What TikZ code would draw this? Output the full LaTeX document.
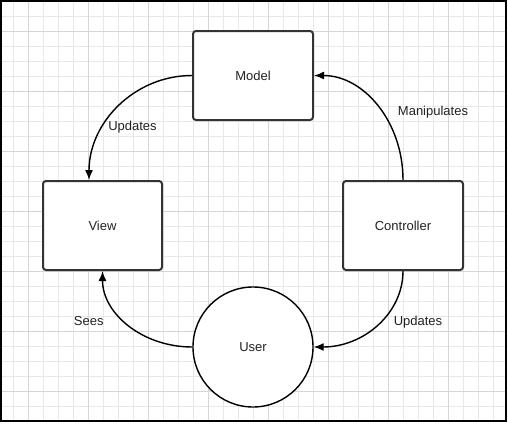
\documentclass[tikz,border=0pt]{standalone}
\usepackage{fontspec}
\setmainfont{Liberation Sans}
\usetikzlibrary{arrows.meta}
\definecolor{minorgrid}{HTML}{E8E8E8}
\definecolor{majorgrid}{HTML}{D6D6D6}
\definecolor{boxline}{HTML}{333333}
\definecolor{txt}{HTML}{222222}
\tikzset{
  box/.style={draw=boxline, line width=2pt, rounded corners=3pt, fill=white,
    minimum width=120pt, minimum height=89pt, inner sep=0pt,
    font=\fontsize{13}{15}\selectfont, text=txt},
  usercircle/.style={draw=black, line width=1.4pt, circle, fill=white,
    minimum size=120pt, inner sep=0pt, font=\fontsize{13}{15}\selectfont, text=txt},
  conn/.style={draw=black, line width=1.4pt, -{Latex[length=10pt,width=8pt]}},
  lbl/.style={font=\fontsize{13}{15}\selectfont, text=txt, inner sep=0pt}
}
\begin{document}
\begin{tikzpicture}[x=1pt,y=-1pt]
\useasboundingbox (0,0) rectangle (508,423);
\fill[white] (0,0) rectangle (508,423);
% grid
\foreach \i in {0,...,33} {
  \pgfmathsetmacro{\gx}{13.3+15*\i}
  \draw[minorgrid, line width=0.8pt] (\gx,0) -- (\gx,422);
}
\foreach \i in {0,...,27} {
  \pgfmathsetmacro{\gy}{1.7+15*\i}
  \draw[minorgrid, line width=0.8pt] (0,\gy) -- (506,\gy);
}
\foreach \i in {0,...,8} {
  \pgfmathsetmacro{\gx}{28.3+60*\i}
  \draw[majorgrid, line width=0.8pt] (\gx,0) -- (\gx,422);
}
\foreach \i in {0,...,6} {
  \pgfmathsetmacro{\gy}{31.7+60*\i}
  \draw[majorgrid, line width=0.8pt] (0,\gy) -- (506,\gy);
}
% frame
\draw[black, line width=2pt] (1,1) rectangle (506,421);

% nodes
\node[box] (model) at (253,75.5) {Model};
\node[box, minimum width=119pt] (view) at (102.5,225.5) {View};
\node[box] (controller) at (403,225.5) {Controller};
\node[usercircle] (user) at (253,347) {User};

% connectors
\draw[conn] (model.west) .. controls +(-57,0) and +(0,-58) .. ([xshift=-13.5pt]view.north);
\draw[conn] (controller.north) .. controls +(0,-58) and +(50,0) .. (model.east);
\draw[conn] (controller.south) .. controls +(0,42.5) and +(50,0) .. (user.east);
\draw[conn] (user.west) .. controls +(-50,0) and +(0,42.5) .. (view.south);

% labels
\node[lbl] (l1) at (132.5,127) {Updates};
\node[lbl] (l2) at (433,112) {Manipulates};
\node[lbl] (l3) at (88.7,321.5) {Sees};
\node[lbl] (l4) at (418,322) {Updates};
\end{tikzpicture}
\end{document}
